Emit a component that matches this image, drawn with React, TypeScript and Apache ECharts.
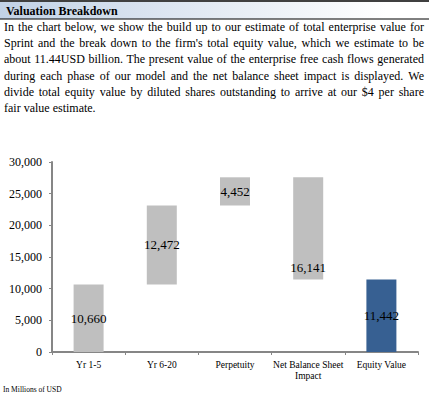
import React, { useEffect, useRef } from "react";
import * as echarts from "echarts";

const categories = ["Yr 1-5", "Yr 6-20", "Perpetuity", "Net Balance Sheet\nImpact", "Equity Value"];
const changes = [10660, 12472, 4452, -16141];
const totalValue = 11442;
const yTicks = { min: 0, max: 30000, interval: 5000 };

const headerTitle = "Valuation Breakdown";
const paragraphLines = [
  "In the chart below, we show the build up to our estimate of total enterprise value for",
  "Sprint and the break down to the firm's total equity value, which we estimate to be",
  "about 11.44USD billion. The present value of the enterprise free cash flows generated",
  "during each phase of our model and the net balance sheet impact is displayed. We",
  "divide total equity value by diluted shares outstanding to arrive at our  $4 per share",
  "fair value estimate.",
];
const footnote = "In Millions of USD";

const SERIF = "'Liberation Serif', 'Times New Roman', serif";

export default function App() {
  const ref = useRef<HTMLDivElement>(null);
  useEffect(() => {
    if (!ref.current) return;
    const chart = echarts.init(ref.current, null, { renderer: "svg" });

    // waterfall bases
    const base: number[] = [];
    const heights: number[] = [];
    let running = 0;
    changes.forEach((v) => {
      if (v >= 0) {
        base.push(running);
        heights.push(v);
        running += v;
      } else {
        running += v;
        base.push(running);
        heights.push(-v);
      }
    });
    base.push(0);
    heights.push(totalValue);

    const fmt = (n: number) => n.toLocaleString("en-US");

    // paragraph justified via measurement
    const canvas = document.createElement("canvas");
    const ctx = canvas.getContext("2d")!;
    const pFont = 12;
    ctx.font = `${pFont}px 'Liberation Serif'`;
    const left = 4;
    const right = 424;
    const lineY0 = 27;
    const lineStep = 16.2;
    const paraGraphics: any[] = [];
    paragraphLines.forEach((line, i) => {
      const y = lineY0 + i * lineStep;
      const isLast = i === paragraphLines.length - 1;
      if (isLast) {
        paraGraphics.push({
          type: "text",
          x: left,
          y,
          style: { text: line, font: `${pFont}px ${SERIF}`, fill: "#000", textVerticalAlign: "middle" },
        });
        return;
      }
      const words = line.split(" ").filter((w) => w.length);
      const widths = words.map((w) => ctx.measureText(w).width);
      const total = widths.reduce((a, b) => a + b, 0);
      const gap = (right - left - total) / (words.length - 1);
      let x = left;
      words.forEach((w, k) => {
        paraGraphics.push({
          type: "text",
          x,
          y,
          style: { text: w, font: `${pFont}px ${SERIF}`, fill: "#000", textVerticalAlign: "middle" },
        });
        x += widths[k] + gap;
      });
    });

    chart.setOption({
      animation: false,
      grid: { left: 52, right: 11, top: 162, bottom: 42, containLabel: false },
      xAxis: {
        type: "category",
        data: categories,
        axisLine: { lineStyle: { color: "#868686", width: 2 } },
        axisTick: { show: true, length: 3, lineStyle: { color: "#868686" } },
        axisLabel: { color: "#000", fontFamily: SERIF, fontSize: 9.5, margin: 7, lineHeight: 11, interval: 0 },
      },
      yAxis: {
        type: "value",
        min: yTicks.min,
        max: yTicks.max,
        interval: yTicks.interval,
        splitLine: { show: false },
        axisLine: { show: true, lineStyle: { color: "#868686", width: 2 } },
        axisTick: { show: true, length: 3, lineStyle: { color: "#868686" } },
        axisLabel: {
          color: "#000",
          fontFamily: SERIF,
          fontSize: 12,
          margin: 10,
          formatter: (v: number) => fmt(v),
        },
      },
      series: [
        {
          type: "bar",
          stack: "w",
          data: base,
          barWidth: 30,
          itemStyle: { color: "transparent" },
          emphasis: { disabled: true },
          silent: true,
        },
        {
          type: "bar",
          stack: "w",
          barWidth: 30,
          data: heights.map((h, i) => ({
            value: h,
            itemStyle: { color: i === heights.length - 1 ? "#376092" : "#BFBFBF" },
            label:
              i === 3
                ? { position: "insideBottom", distance: 6 }
                : { position: "inside" },
          })),
          label: {
            show: true,
            color: "#000",
            fontFamily: SERIF,
            fontSize: 13,
            formatter: (p: any) => {
              const i = p.dataIndex;
              return fmt(i < changes.length ? Math.abs(changes[i]) : totalValue);
            },
          },
        },
      ],
      graphic: [
        {
          type: "rect",
          shape: { x: 0, y: 2, width: 429, height: 17 },
          style: {
            fill: {
              type: "linear",
              x: 0,
              y: 0,
              x2: 1,
              y2: 0,
              colorStops: [
                { offset: 0, color: "#C2D2E6" },
                { offset: 0.9, color: "#FFFFFF" },
                { offset: 1, color: "#FFFFFF" },
              ],
            },
          },
          silent: true,
        },
        { type: "line", shape: { x1: 0, y1: 1, x2: 429, y2: 1 }, style: { stroke: "#000", lineWidth: 1.5 } },
        { type: "line", shape: { x1: 0, y1: 19, x2: 429, y2: 19 }, style: { stroke: "#000", lineWidth: 1 } },
        {
          type: "text",
          x: 6,
          y: 11,
          style: { text: headerTitle, font: `bold 12px ${SERIF}`, fill: "#000", textVerticalAlign: "middle" },
        },
        ...paraGraphics,
        {
          type: "text",
          x: 3,
          y: 389,
          style: { text: footnote, font: `7.5px ${SERIF}`, fill: "#000", textVerticalAlign: "middle" },
        },
      ],
    });
    return () => chart.dispose();
  }, []);
  return (
    <div
      ref={ref}
      style={{ position: "fixed", left: 0, top: 0, width: 429, height: 394, background: "#fff" }}
    />
  );
}
